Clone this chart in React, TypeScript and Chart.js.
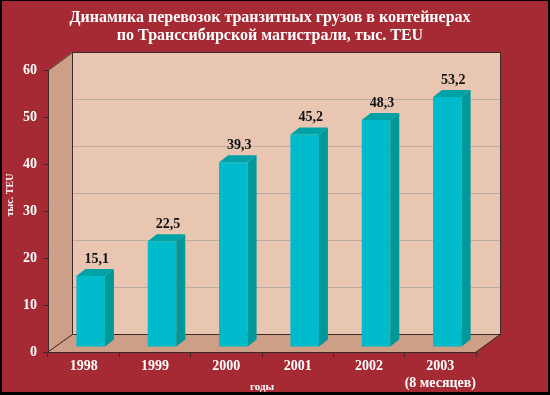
import React, { useEffect, useRef } from "react";
import { Chart, registerables } from "chart.js";

Chart.register(...registerables);

const TITLE_LINES = [
  "Динамика перевозок транзитных грузов в контейнерах",
  "по Транссибирской магистрали, тыс. TEU",
];
const CATEGORIES: (string | string[])[] = ["1998", "1999", "2000", "2001", "2002", ["2003", "(8 месяцев)"]];
const VALUES = [15.1, 22.5, 39.3, 45.2, 48.3, 53.2];
const Y_MIN = 0;
const Y_MAX = 60;
const Y_STEP = 10;
const Y_TITLE = "тыс. TEU";
const X_TITLE = "годы";

const W = 550;
const H = 395;
const FONT = "'Liberation Serif', 'Times New Roman', serif";
const RED = "#A52A33";
const BACK_WALL = "#E9C6B2";
const SIDE_WALL = "#CC9F86";
const FLOOR = "#CC9F86";
const LINE = "#3a2a2a";
const GRID = "#BBAAA2";
const BAR_FRONT = "#00BBCB";
const BAR_SIDE = "#009898";
const BAR_TOP = "#00A2A6";

const DX = 24;
const DY = -18;
const SHIFT_X = 7;
const SHIFT_Y = -5;
const SIDE_DX = 9;
const SIDE_DY = -7;

const framePlugin = {
  id: "frame3d",
  beforeDraw(chart: any) {
    const { ctx, chartArea: a, scales } = chart;
    const y = scales.y;
    ctx.save();
    ctx.fillStyle = "#000";
    ctx.fillRect(0, 0, W, H);
    ctx.fillStyle = RED;
    ctx.fillRect(2, 1, W - 4, H - 4);

    // title
    ctx.fillStyle = "#fff";
    ctx.font = `bold 16px ${FONT}`;
    ctx.textAlign = "center";
    ctx.textBaseline = "middle";
    ctx.fillText(TITLE_LINES[0], 270, 18);
    ctx.fillText(TITLE_LINES[1], 270, 36);

    const L = a.left, R = a.right, T = a.top, B = a.bottom;
    // back wall
    ctx.fillStyle = BACK_WALL;
    ctx.fillRect(L + DX, T + DY, R - L, B - T);
    // side wall
    ctx.fillStyle = SIDE_WALL;
    ctx.beginPath();
    ctx.moveTo(L, T);
    ctx.lineTo(L + DX, T + DY);
    ctx.lineTo(L + DX, B + DY);
    ctx.lineTo(L, B);
    ctx.closePath();
    ctx.fill();
    // floor
    ctx.fillStyle = FLOOR;
    ctx.beginPath();
    ctx.moveTo(L, B);
    ctx.lineTo(L + DX, B + DY);
    ctx.lineTo(R + DX, B + DY);
    ctx.lineTo(R, B);
    ctx.closePath();
    ctx.fill();

    // grid lines
    ctx.strokeStyle = GRID;
    ctx.lineWidth = 1;
    for (let v = Y_MIN + Y_STEP; v < Y_MAX; v += Y_STEP) {
      const py = Math.round(y.getPixelForValue(v)) + 0.5;
      ctx.beginPath();
      ctx.moveTo(L, py);
      ctx.lineTo(L + DX, py + DY);
      ctx.lineTo(R + DX, py + DY);
      ctx.stroke();
    }

    // outlines
    ctx.strokeStyle = LINE;
    ctx.beginPath();
    ctx.rect(L + DX + 0.5, T + DY + 0.5, R - L, B - T);
    ctx.moveTo(L, T + 0.5);
    ctx.lineTo(L + DX + 0.5, T + DY + 0.5);
    ctx.moveTo(L, B);
    ctx.lineTo(L + DX + 0.5, B + DY + 0.5);
    ctx.moveTo(R, B);
    ctx.lineTo(R + DX + 0.5, B + DY + 0.5);
    ctx.stroke();
    ctx.restore();
  },
  beforeDatasetsDraw(chart: any) {
    chart.ctx.save();
    chart.ctx.translate(SHIFT_X, SHIFT_Y);
  },
  afterDatasetsDraw(chart: any) {
    const ctx = chart.ctx;
    const meta = chart.getDatasetMeta(0);
    meta.data.forEach((el: any, i: number) => {
      const { x, y: top, base, width } = el.getProps(["x", "y", "base", "width"], true);
      const l = x - width / 2;
      const r = x + width / 2;
      ctx.fillStyle = BAR_SIDE;
      ctx.beginPath();
      ctx.moveTo(r, top);
      ctx.lineTo(r + SIDE_DX, top + SIDE_DY);
      ctx.lineTo(r + SIDE_DX, base + SIDE_DY);
      ctx.lineTo(r, base);
      ctx.closePath();
      ctx.fill();
      ctx.fillStyle = BAR_TOP;
      ctx.beginPath();
      ctx.moveTo(l, top);
      ctx.lineTo(l + SIDE_DX, top + SIDE_DY);
      ctx.lineTo(r + SIDE_DX, top + SIDE_DY);
      ctx.lineTo(r, top);
      ctx.closePath();
      ctx.fill();

      ctx.fillStyle = "#111";
      ctx.font = `bold 14px ${FONT}`;
      ctx.textAlign = "center";
      ctx.textBaseline = "middle";
      ctx.fillText(VALUES[i].toFixed(1).replace(".", ","), x + 6, top - 17);
    });
    ctx.restore();
  },
  afterDraw(chart: any) {
    const ctx = chart.ctx;
    ctx.save();
    ctx.fillStyle = "#fff";
    ctx.textAlign = "center";
    ctx.textBaseline = "middle";
    ctx.font = `bold 11px ${FONT}`;
    ctx.fillText(X_TITLE, 262, 387);
    ctx.translate(10.5, 195);
    ctx.rotate(-Math.PI / 2);
    ctx.font = `bold 10px ${FONT}`;
    ctx.fillText(Y_TITLE, 0, 0);
    ctx.restore();
  },
};

export default function App() {
  const ref = useRef<HTMLCanvasElement | null>(null);
  useEffect(() => {
    document.body.style.margin = "0";
    const canvas = ref.current!;
    const chart = new Chart(canvas, {
      type: "bar",
      data: {
        labels: CATEGORIES as any,
        datasets: [
          {
            data: VALUES,
            backgroundColor: BAR_FRONT,
            borderWidth: 0,
            barPercentage: 0.4,
            categoryPercentage: 1,
          },
        ],
      },
      options: {
        responsive: false,
        animation: false,
        devicePixelRatio: 1,
        layout: { padding: { top: 70, right: 74, left: 0, bottom: 0 } },
        plugins: {
          legend: { display: false },
          title: { display: false },
          tooltip: { enabled: false },
        },
        scales: {
          x: {
            offset: true,
            grid: { drawOnChartArea: false, drawTicks: true, tickLength: 5, color: LINE, offset: true },
            border: { display: true, color: LINE },
            ticks: {
              color: "#fff",
              font: { family: FONT, size: 14, weight: "bold" },
              padding: 1,
              maxRotation: 0,
              autoSkip: false,
            },
            afterFit: (s: any) => {
              s.height = 43;
            },
          },
          y: {
            min: Y_MIN,
            max: Y_MAX,
            grid: { drawOnChartArea: false, drawTicks: true, tickLength: 5, color: LINE },
            border: { display: true, color: LINE },
            ticks: { stepSize: Y_STEP, color: "#fff", font: { family: FONT, size: 14, weight: "bold" }, padding: 6 },
            afterFit: (s: any) => {
              s.width = 48;
            },
          },
        },
      },
      plugins: [framePlugin],
    });
    return () => chart.destroy();
  }, []);
  return (
    <div style={{ width: W, height: H }}>
      <canvas ref={ref} width={W} height={H} style={{ display: "block" }} />
    </div>
  );
}
